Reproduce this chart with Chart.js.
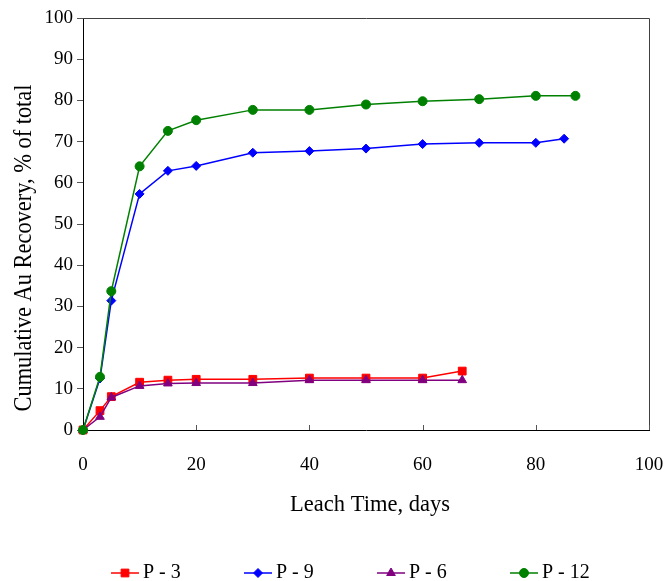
<!DOCTYPE html>
<html>
<head>
<meta charset="utf-8">
<script src="https://cdn.jsdelivr.net/npm/chart.js@4/dist/chart.umd.min.js"></script>
<style>
  html, body { margin: 0; padding: 0; background: #fff; }
  #wrap { width: 667px; height: 581px; position: relative; }
</style>
</head>
<body>
<div id="wrap"><canvas id="c" width="667" height="581"></canvas></div>
<script>
// ---- Data ----
const seriesNames = ['P - 3', 'P - 9', 'P - 6', 'P - 12'];

const daysP3  = [0, 3, 5, 10, 15, 20, 30, 40, 50, 60, 67];
const recP3   = [0, 4.7, 8.1, 11.6, 12.1, 12.3, 12.3, 12.6, 12.6, 12.6, 14.3];

const daysP9  = [0, 3, 5, 10, 15, 20, 30, 40, 50, 60, 70, 80, 85];
const recP9   = [0, 12.5, 31.4, 57.3, 62.9, 64.1, 67.3, 67.7, 68.3, 69.4, 69.7, 69.7, 70.7];

const daysP6  = [0, 3, 5, 10, 15, 20, 30, 40, 50, 60, 67];
const recP6   = [0, 3.2, 7.9, 10.7, 11.3, 11.4, 11.4, 12.1, 12.1, 12.1, 12.1];

const daysP12 = [0, 3, 5, 10, 15, 20, 30, 40, 50, 60, 70, 80, 87];
const recP12  = [0, 12.9, 33.7, 64.0, 72.6, 75.2, 77.7, 77.7, 79.0, 79.8, 80.3, 81.1, 81.1];

const xTitle = 'Leach Time, days';
const yTitle = 'Cumulative Au Recovery, % of total';

// ---- build ----
const pair = (xs, ys) => xs.map((x, i) => ({ x: x, y: ys[i] }));
const styles = [
  { color: '#FF0000', point: 'rect',     radius: 5.5, order: 4 },
  { color: '#0000FF', point: 'rectRot',  radius: 4.5, order: 3 },
  { color: '#800080', point: 'triangle', radius: 5,   order: 2 },
  { color: '#008000', point: 'circle',   radius: 4.5, order: 1 }
];
const allData = [pair(daysP3, recP3), pair(daysP9, recP9), pair(daysP6, recP6), pair(daysP12, recP12)];

const datasets = allData.map((d, i) => ({
  label: seriesNames[i],
  data: d,
  showLine: true,
  borderColor: styles[i].color,
  backgroundColor: styles[i].color,
  pointBackgroundColor: styles[i].color,
  pointBorderColor: styles[i].color,
  pointStyle: styles[i].point,
  pointRadius: styles[i].radius,
  pointBorderWidth: 1,
  borderWidth: 1.5,
  tension: 0,
  clip: false,
  order: styles[i].order
}));

const SERIF = "'Liberation Serif', 'Times New Roman', serif";

const decor = {
  id: 'decor',
  beforeDatasetsDraw(chart) {
    const ctx = chart.ctx, a = chart.chartArea;
    ctx.save();
    ctx.strokeStyle = '#404040';
    ctx.lineWidth = 1;
    ctx.beginPath();
    ctx.moveTo(a.left, a.top + 0.5);
    ctx.lineTo(a.right + 0.5, a.top + 0.5);
    ctx.lineTo(a.right + 0.5, a.bottom);
    ctx.stroke();
    const xs = chart.scales.x;
    ctx.strokeStyle = '#555';
    xs.ticks.forEach(t => {
      const px = Math.round(xs.getPixelForValue(t.value)) + 0.5;
      ctx.beginPath();
      ctx.moveTo(px, a.bottom);
      ctx.lineTo(px, a.bottom - 5);
      ctx.stroke();
    });
    ctx.restore();
  },
  afterDraw(chart) {
    const ctx = chart.ctx;
    ctx.save();
    ctx.fillStyle = '#000';
    ctx.font = '25px ' + SERIF;
    ctx.textAlign = 'center';
    ctx.textBaseline = 'middle';
    const w = ctx.measureText(yTitle).width;
    const target = 327;
    ctx.translate(24, 248);
    ctx.rotate(-Math.PI / 2);
    ctx.scale(target / w, 1);
    ctx.fillText(yTitle, 0, 0);
    ctx.restore();

    ctx.save();
    ctx.fillStyle = '#000';
    ctx.font = '22.5px ' + SERIF;
    ctx.textAlign = 'center';
    ctx.textBaseline = 'middle';
    ctx.fillText(xTitle, 370, 505);
    ctx.restore();

    ctx.save();
    const ly = 573, startX = 111, step = 133, lineLen = 28;
    chart.data.datasets.forEach((ds, i) => {
      const x0 = startX + i * step;
      ctx.strokeStyle = ds.borderColor;
      ctx.lineWidth = 1.5;
      ctx.beginPath();
      ctx.moveTo(x0, ly);
      ctx.lineTo(x0 + lineLen, ly);
      ctx.stroke();
      ctx.fillStyle = ds.pointBackgroundColor;
      ctx.strokeStyle = ds.pointBorderColor;
      ctx.lineWidth = 1;
      Chart.helpers.drawPoint(ctx, {
        pointStyle: ds.pointStyle, radius: ds.pointRadius, rotation: 0, borderWidth: 1
      }, x0 + lineLen / 2, ly);
      ctx.fillStyle = '#000';
      ctx.font = '20px ' + SERIF;
      ctx.textAlign = 'left';
      ctx.textBaseline = 'middle';
      ctx.fillText(ds.label, x0 + lineLen + 4, ly);
    });
    ctx.restore();
  }
};

new Chart(document.getElementById('c'), {
  type: 'scatter',
  data: { datasets: datasets },
  options: {
    responsive: false,
    animation: false,
    devicePixelRatio: 1,
    layout: { padding: { left: 0, top: 18, right: 18, bottom: 0 } },
    plugins: {
      legend: { display: false },
      tooltip: { enabled: false }
    },
    scales: {
      x: {
        type: 'linear',
        min: 0, max: 100,
        afterFit(s) { s.height = 151; s.paddingLeft = 0; s.paddingRight = 0; },
        ticks: { stepSize: 20, color: '#000', font: { family: SERIF, size: 19 }, padding: 24, maxRotation: 0 },
        grid: { display: true, drawOnChartArea: false, drawTicks: false },
        border: { display: true, color: '#000', width: 1 }
      },
      y: {
        type: 'linear',
        min: 0, max: 100,
        afterFit(s) { s.width = 83; s.paddingTop = 0; s.paddingBottom = 0; },
        ticks: { stepSize: 10, color: '#000', font: { family: SERIF, size: 19 }, padding: 4 },
        grid: { display: true, drawOnChartArea: false, drawTicks: true, tickLength: 6, color: '#555' },
        border: { display: true, color: '#000', width: 1 }
      }
    }
  },
  plugins: [decor]
});
</script>
</body>
</html>
